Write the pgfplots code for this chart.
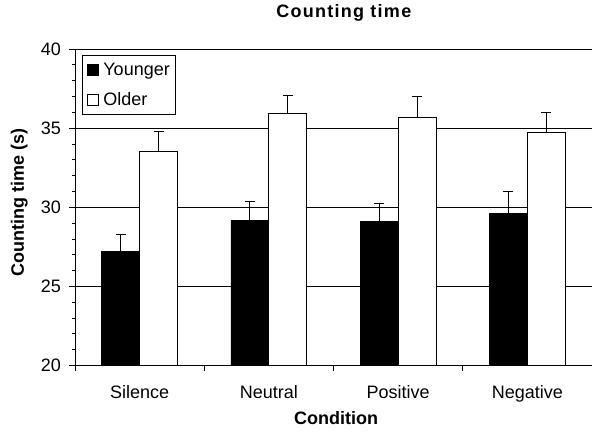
\documentclass[border=0pt]{standalone}
\usepackage{fontspec}
\setmainfont{Liberation Sans}
\usepackage{pgfplots}
\pgfplotsset{compat=1.18}
\begin{document}
\begin{tikzpicture}[x=1pt,y=1pt]
\useasboundingbox (-75,-66) rectangle (517,365.5);
\begin{axis}[
  at={(0,0)}, anchor=south west,
  scale only axis, width=517pt, height=316.5pt,
  /pgf/number format/assume math mode=true,
  tick label style={font=\fontsize{18}{21}\selectfont},
  ybar, bar width=0.294,
  xmin=-0.5, xmax=3.5, ymin=20, ymax=40,
  axis x line*=bottom, axis y line*=left,
  axis line style={black, line width=0.8pt},
  xtick={-0.5,0.5,1.5,2.5,3.5},
  xticklabels={},
  extra x ticks={0,1,2,3},
  extra x tick labels={Silence,Neutral,Positive,Negative},
  extra x tick style={tick style={draw=none}, xticklabel style={yshift=-11pt}},
  ytick={20,25,30,35,40},
  yticklabel style={xshift=-5pt},
  minor ytick={21,22,23,24,26,27,28,29,31,32,33,34,36,37,38,39},
  tick align=outside,
  major tick length=5.5pt, minor tick length=3pt,
  tick style={line width=0.8pt, black},
  ymajorgrids, grid style={black, line width=0.8pt},
  title={Counting time},
  title style={at={(0.52,1.096)}, anchor=center, font=\fontsize{18}{21}\selectfont\bfseries\addfontfeature{LetterSpace=7}},
  xlabel={Condition},
  xlabel style={at={(0.505,-0.167)}, anchor=center, font=\fontsize{18}{21}\selectfont\bfseries},
  ylabel={Counting time (s)},
  ylabel style={at={(-0.108,0.515)}, anchor=center, font=\fontsize{18}{21}\selectfont\bfseries},
  legend style={at={(0.0135,0.98)}, anchor=north west, draw=black, line width=0.8pt,
    font=\fontsize{18}{21}\selectfont, inner xsep=4pt, inner ysep=5pt,
    row sep=12pt, cells={anchor=west}},
  legend image code/.code={\draw[#1, line width=0.7pt] (1pt,-5.5pt) rectangle (12pt,5.5pt);
    \path[draw=none, fill=none] (0pt,0pt) -- (15pt,0pt);},
  error bars/y dir=plus, error bars/y explicit,
  error bars/error mark options={rotate=90, mark size=5pt, line width=0.8pt},
  error bars/error bar style={line width=0.8pt},
]
\addplot[draw=black, fill=black, bar shift=-0.147, line width=0.6pt] coordinates {
  (0,27.2) +- (0,1.1)
  (1,29.15) +- (0,1.25)
  (2,29.1) +- (0,1.15)
  (3,29.6) +- (0,1.4)
};
\addplot[draw=black, fill=white, bar shift=0.147, line width=0.8pt] coordinates {
  (0,33.55) +- (0,1.25)
  (1,35.9) +- (0,1.15)
  (2,35.7) +- (0,1.3)
  (3,34.7) +- (0,1.3)
};
\legend{Younger,Older}
\end{axis}
\end{tikzpicture}
\end{document}
